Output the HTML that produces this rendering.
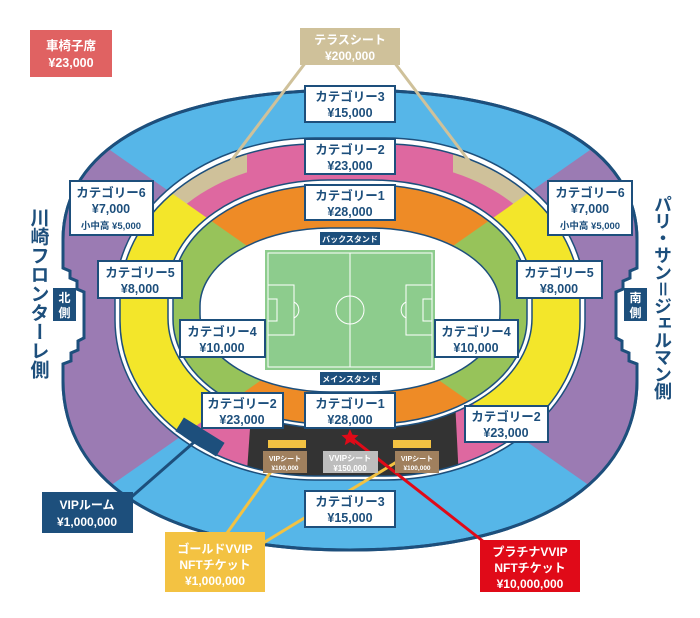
<!DOCTYPE html>
<html><head><meta charset="utf-8"><style>
html,body{margin:0;padding:0;background:#fff;}
svg{display:block;}
text{font-family:"Liberation Sans","Noto Sans CJK JP",sans-serif;font-weight:bold;}
.c{fill:#1d4f7c;font-size:12.5px;text-anchor:middle;}
.s{fill:#1d4f7c;font-size:9.5px;text-anchor:middle;}
.w{fill:#fff;text-anchor:middle;}
.box{fill:#fff;stroke:#1d4f7c;stroke-width:2;}
</style></head><body>
<svg width="700" height="618" viewBox="0 0 700 618" xmlns="http://www.w3.org/2000/svg">
<defs>
<path id="op" d="M350,90 C540,90 637,150 637,240 L637,268 L630,271 L630,278 L623,281 L623,289 L616,292 L616,338 L622,341 L622,350 L629,353 L629,361 L637,364 L637,380 C637,480 540,550 350,550 C160,550 63,480 63,380 L63,364 L71,361 L71,353 L78,350 L78,341 L84,338 L84,292 L77,289 L77,281 L70,278 L70,271 L63,268 L63,240 C63,150 160,90 350,90 Z"/>
<clipPath id="wedge"><polygon points="350,318 0,73 0,563"/><polygon points="350,318 700,73 700,563"/></clipPath>
<clipPath id="tan"><polygon points="0,0 247,0 247,250 0,250"/><polygon points="453,0 700,0 700,250 453,250"/></clipPath>
<clipPath id="blk"><polygon points="252,400 455,400 460,500 245,500"/></clipPath>
</defs>
<use href="#op" fill="#56b6e8" stroke="#1d4f7c" stroke-width="3"/>
<use href="#op" fill="#9b7bb3" clip-path="url(#wedge)"/>
<use href="#op" fill="none" stroke="#1d4f7c" stroke-width="3"/>
<rect x="115" y="138" width="470" height="342" rx="200" ry="160" fill="#fff" stroke="#1d4f7c" stroke-width="1.5"/>
<rect x="120" y="144" width="460" height="332" rx="195" ry="155" fill="#de68a0"/>
<rect x="120" y="144" width="460" height="332" rx="195" ry="155" fill="#cfc19a" clip-path="url(#tan)"/>
<rect x="135" y="162" width="430" height="298" rx="180" ry="140" fill="#de68a0" clip-path="url(#tan)"/>
<rect x="120" y="144" width="460" height="332" rx="195" ry="155" fill="#f3e62a" clip-path="url(#wedge)"/>
<rect x="120" y="144" width="460" height="332" rx="195" ry="155" fill="#333" clip-path="url(#blk)"/>
<rect x="120" y="144" width="460" height="332" rx="195" ry="155" fill="none" stroke="#1d4f7c" stroke-width="1.5"/>
<rect x="168" y="180" width="364" height="248" rx="160" ry="110" fill="#fff" stroke="#1d4f7c" stroke-width="1.5"/>
<rect x="173" y="185" width="354" height="239" rx="155" ry="105" fill="#ee8b26"/>
<rect x="173" y="185" width="354" height="239" rx="155" ry="105" fill="#97c35a" clip-path="url(#wedge)"/>
<rect x="173" y="185" width="354" height="239" rx="155" ry="105" fill="none" stroke="#1d4f7c" stroke-width="1.5"/>
<rect x="200" y="228" width="300" height="164" rx="130" ry="78" fill="#fff" stroke="#1d4f7c" stroke-width="1.5"/>
<rect x="265" y="250" width="170" height="120" fill="#8dcc8d"/>
<g fill="none" stroke="#fff" stroke-width="1">
<rect x="268" y="253" width="164" height="114"/>
<line x1="350" y1="253" x2="350" y2="367"/>
<circle cx="350" cy="310" r="14"/>
<rect x="268" y="285" width="26" height="50"/><rect x="268" y="299" width="9" height="22"/>
<rect x="406" y="285" width="26" height="50"/><rect x="423" y="299" width="9" height="22"/>
<path d="M294,302 A9,9 0 0 1 294,318"/><path d="M406,302 A9,9 0 0 0 406,318"/>
</g>
<rect x="320" y="232" width="60" height="13" fill="#1d4f7c"/><text x="350" y="242" class="w" font-size="8">バックスタンド</text>
<rect x="320" y="372" width="60" height="13" fill="#1d4f7c"/><text x="350" y="382" class="w" font-size="8">メインスタンド</text>
<line x1="306" y1="62" x2="228" y2="165" stroke="#cfc19a" stroke-width="3"/>
<line x1="394" y1="62" x2="472" y2="165" stroke="#cfc19a" stroke-width="3"/>
<line x1="200" y1="437" x2="128" y2="500" stroke="#1d4f7c" stroke-width="3"/>
<line x1="285" y1="452" x2="222" y2="540" stroke="#f3c242" stroke-width="3"/>
<line x1="413" y1="452" x2="255" y2="548" stroke="#f3c242" stroke-width="3"/>
<line x1="350" y1="437" x2="484" y2="542" stroke="#e00a18" stroke-width="3"/>
<rect x="176" y="429" width="48" height="16" fill="#1d4f7c" transform="rotate(32 200 437)"/>
<rect x="268" y="440" width="38" height="8" fill="#f3c242"/>
<rect x="393" y="440" width="38" height="8" fill="#f3c242"/>
<rect x="263" y="451" width="44" height="22" fill="#a0805e"/>
<text x="285" y="461" class="w" font-size="7">VIPシート</text><text x="285" y="470" class="w" font-size="6.5">¥100,000</text>
<rect x="395" y="451" width="44" height="22" fill="#a0805e"/>
<text x="417" y="461" class="w" font-size="7">VIPシート</text><text x="417" y="470" class="w" font-size="6.5">¥100,000</text>
<rect x="323" y="451" width="55" height="22" fill="#bdbdbd"/>
<text x="350" y="461" class="w" font-size="8">VVIPシート</text><text x="350" y="471" class="w" font-size="8">¥150,000</text>
<polygon points="350,429 352.4,434.6 358.5,435.2 353.9,439.2 355.3,445.2 350,442 344.7,445.2 346.1,439.2 341.5,435.2 347.6,434.6" fill="#e00a18"/>
<rect x="30" y="30" width="82" height="47" fill="#e06262"/>
<text x="71" y="50" class="w" font-size="12.5">車椅子席</text><text x="71" y="67" class="w" font-size="12.5">¥23,000</text>
<rect x="300" y="28" width="100" height="37" fill="#cfc19a"/>
<text x="350" y="44" class="w" font-size="12">テラスシート</text><text x="350" y="60" class="w" font-size="12">¥200,000</text>
<rect class="box" x="305" y="86" width="90" height="36"/><text x="350" y="101" class="c">カテゴリー3</text><text x="350" y="117" class="c">¥15,000</text>
<rect class="box" x="305" y="139" width="90" height="35"/><text x="350" y="154" class="c">カテゴリー2</text><text x="350" y="170" class="c">¥23,000</text>
<rect class="box" x="305" y="185" width="90" height="35"/><text x="350" y="200" class="c">カテゴリー1</text><text x="350" y="216" class="c">¥28,000</text>
<rect class="box" x="305" y="393" width="90" height="35"/><text x="350" y="408" class="c">カテゴリー1</text><text x="350" y="424" class="c">¥28,000</text>
<rect class="box" x="202" y="393" width="81" height="35"/><text x="242" y="408" class="c">カテゴリー2</text><text x="242" y="424" class="c">¥23,000</text>
<rect class="box" x="465" y="406" width="83" height="36"/><text x="506" y="421" class="c">カテゴリー2</text><text x="506" y="437" class="c">¥23,000</text>
<rect class="box" x="180" y="320" width="85" height="37"/><text x="222" y="336" class="c">カテゴリー4</text><text x="222" y="352" class="c">¥10,000</text>
<rect class="box" x="435" y="320" width="83" height="37"/><text x="476" y="336" class="c">カテゴリー4</text><text x="476" y="352" class="c">¥10,000</text>
<rect class="box" x="98" y="261" width="84" height="37"/><text x="140" y="277" class="c">カテゴリー5</text><text x="140" y="293" class="c">¥8,000</text>
<rect class="box" x="517" y="261" width="85" height="37"/><text x="559" y="277" class="c">カテゴリー5</text><text x="559" y="293" class="c">¥8,000</text>
<rect class="box" x="70" y="181" width="83" height="54"/><text x="111" y="197" class="c">カテゴリー6</text><text x="111" y="213" class="c">¥7,000</text><text x="111" y="229" class="s">小中高 ¥5,000</text>
<rect class="box" x="548" y="181" width="84" height="54"/><text x="590" y="197" class="c">カテゴリー6</text><text x="590" y="213" class="c">¥7,000</text><text x="590" y="229" class="s">小中高 ¥5,000</text>
<rect class="box" x="305" y="491" width="90" height="36"/><text x="350" y="506" class="c">カテゴリー3</text><text x="350" y="522" class="c">¥15,000</text>
<rect x="53" y="288" width="23" height="33" fill="#1d4f7c"/><text x="64.5" y="302" class="w" font-size="12">北</text><text x="64.5" y="317" class="w" font-size="12">側</text>
<rect x="624" y="288" width="23" height="33" fill="#1d4f7c"/><text x="635.5" y="302" class="w" font-size="12">南</text><text x="635.5" y="317" class="w" font-size="12">側</text>
<text x="38" y="208" fill="#1d4f7c" font-size="19" text-anchor="start" style="writing-mode:tb;glyph-orientation-vertical:0;letter-spacing:0px">川崎フロンターレ側</text>
<text x="662" y="195" fill="#1d4f7c" font-size="18" text-anchor="start" style="writing-mode:tb;glyph-orientation-vertical:0;letter-spacing:-1px">パリ・サン＝ジェルマン側</text>
<rect x="42" y="492" width="91" height="41" fill="#1d4f7c"/>
<text x="87" y="509" class="w" font-size="12">VIPルーム</text><text x="87" y="526" class="w" font-size="12">¥1,000,000</text>
<rect x="165" y="532" width="100" height="60" fill="#f3c242"/>
<text x="215" y="553" class="w" font-size="12">ゴールドVVIP</text><text x="215" y="569" class="w" font-size="12">NFTチケット</text><text x="215" y="585" class="w" font-size="12">¥1,000,000</text>
<rect x="480" y="540" width="100" height="52" fill="#e00a18"/>
<text x="530" y="556" class="w" font-size="12">プラチナVVIP</text><text x="530" y="572" class="w" font-size="12">NFTチケット</text><text x="530" y="588" class="w" font-size="12">¥10,000,000</text>
</svg>
</body></html>
